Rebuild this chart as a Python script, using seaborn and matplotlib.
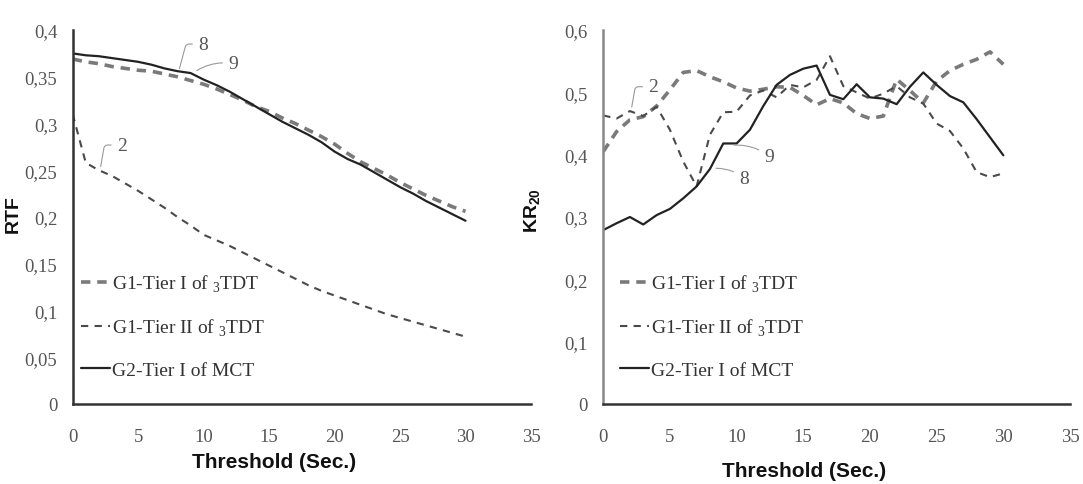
import numpy as np
import pandas as pd
import matplotlib
matplotlib.use('Agg')
import matplotlib.pyplot as plt
from matplotlib.ticker import FuncFormatter
import seaborn as sns

# limiares (segundos)
threshold = list(range(0, 31))

# RTF - painel esquerdo
rtf_g1_tier1 = [0.369, 0.366, 0.364, 0.361, 0.359, 0.357, 0.356, 0.353, 0.350, 0.346,
                0.342, 0.337, 0.331, 0.325, 0.318, 0.313, 0.306, 0.300, 0.293, 0.286,
                0.278, 0.268, 0.259, 0.252, 0.245, 0.237, 0.230, 0.223, 0.217, 0.211, 0.206]
rtf_g1_tier2 = [0.310, 0.258, 0.250, 0.244, 0.236, 0.228, 0.219, 0.210, 0.200, 0.191,
                0.181, 0.175, 0.169, 0.162, 0.155, 0.148, 0.141, 0.134, 0.127, 0.121,
                0.116, 0.111, 0.106, 0.101, 0.096, 0.092, 0.088, 0.084, 0.080, 0.076, 0.072]
rtf_g2_tier1 = [0.375, 0.373, 0.372, 0.370, 0.368, 0.366, 0.363, 0.359, 0.356, 0.354,
                0.347, 0.341, 0.334, 0.326, 0.318, 0.310, 0.302, 0.295, 0.288, 0.280,
                0.270, 0.262, 0.256, 0.248, 0.240, 0.232, 0.225, 0.217, 0.210, 0.203, 0.196]

# KR-20 - painel direito
kr_g1_tier1 = [0.405, 0.437, 0.456, 0.461, 0.478, 0.504, 0.532, 0.535, 0.525, 0.517,
               0.507, 0.502, 0.505, 0.509, 0.508, 0.495, 0.480, 0.490, 0.483, 0.466,
               0.458, 0.462, 0.521, 0.503, 0.483, 0.518, 0.535, 0.545, 0.553, 0.565, 0.545]
kr_g1_tier2 = [0.463, 0.458, 0.470, 0.462, 0.477, 0.440, 0.389, 0.349, 0.432, 0.468,
               0.469, 0.495, 0.503, 0.492, 0.512, 0.508, 0.520, 0.558, 0.510, 0.500,
               0.490, 0.498, 0.510, 0.492, 0.482, 0.450, 0.438, 0.410, 0.372, 0.364, 0.370]
kr_g2_tier1 = [0.279, 0.290, 0.300, 0.288, 0.303, 0.313, 0.330, 0.349, 0.377, 0.418,
               0.418, 0.440, 0.478, 0.512, 0.528, 0.538, 0.543, 0.496, 0.489, 0.513,
               0.492, 0.490, 0.481, 0.509, 0.532, 0.512, 0.494, 0.484, 0.457, 0.428, 0.399]

labels = [r'G1-Tier I of $_{\mathrm{3}}$TDT',
          r'G1-Tier II of $_{\mathrm{3}}$TDT',
          r'G2-Tier I of MCT']

sns.set_style('white')
plt.rcParams['font.family'] = ['Liberation Serif', 'DejaVu Serif']
plt.rcParams['mathtext.fontset'] = 'custom'
plt.rcParams['mathtext.rm'] = 'Liberation Serif'
plt.rcParams['mathtext.bf'] = 'Liberation Sans:bold'

estilos = [
    dict(color='#7a7a7a', linewidth=2.6, linestyle=(0, (2.6, 1.9))),
    dict(color='#4a4a4a', linewidth=1.5, linestyle=(0, (3.5, 3.0))),
    dict(color='#222222', linewidth=1.6, linestyle='-'),
]

fig = plt.figure(figsize=(10.83, 4.85), dpi=100)
ax1 = fig.add_axes([0.0671, 0.165, 0.4232, 0.771])
ax2 = fig.add_axes([0.557, 0.165, 0.431, 0.771])

for ax, series, ymax, ystep in [(ax1, [rtf_g1_tier1, rtf_g1_tier2, rtf_g2_tier1], 0.4, 0.05),
                                (ax2, [kr_g1_tier1, kr_g1_tier2, kr_g2_tier1], 0.6, 0.1)]:
    for vals, lab, st in zip(series, labels, estilos):
        sns.lineplot(x=threshold, y=vals, ax=ax, label=lab, **st)
    ax.set_xlim(0, 35)
    ax.set_ylim(0, ymax)
    ax.set_xticks(range(0, 36, 5))
    ax.set_yticks(np.round(np.arange(0, ymax + 1e-9, ystep), 2))
    ax.yaxis.set_major_formatter(FuncFormatter(lambda v, p: f'{v:g}'.replace('.', ',')))
    ax.tick_params(axis='x', length=0, pad=17, labelsize=13.5, labelcolor='#555555')
    ax.tick_params(axis='y', length=0, pad=11, labelsize=13.5, labelcolor='#555555')
    for s in ['top', 'right']:
        ax.spines[s].set_visible(False)
    ax.spines['bottom'].set_color('#333333')
    ax.spines['bottom'].set_linewidth(1.8)
    ax.spines['left'].set_linewidth(1.8)
    ax.set_xlabel('Threshold (Sec.)', fontsize=15, fontweight='bold', color='#111111',
                  family=['Liberation Sans', 'DejaVu Sans'])
    ax.legend(loc='center left', frameon=False, fontsize=14, handlelength=1.5,
              handletextpad=0.1, labelspacing=1.2, borderpad=0, borderaxespad=0,
              labelcolor='#333333')

ax1.spines['left'].set_color('#333333')
ax2.spines['left'].set_color('#888888')
ax1.legend_.set_bbox_to_anchor((0.018, 0.209))
ax2.legend_.set_bbox_to_anchor((0.036, 0.209))

ax1.xaxis.set_label_coords(0.44, -0.128)
ax2.xaxis.set_label_coords(0.43, -0.152)

ax1.set_ylabel('RTF', fontsize=14, fontweight='bold', color='#111111',
               family=['Liberation Sans', 'DejaVu Sans'])
ax1.yaxis.set_label_coords(-0.112, 0.51)
ax2.set_ylabel(r'KR$_{\mathbf{20}}$', fontsize=14, fontweight='bold', color='#111111',
               family=['Liberation Sans', 'DejaVu Sans'])
ax2.yaxis.set_label_coords(-0.13, 0.52)

# rótulos numéricos com linhas de chamada
anot = dict(fontsize=14, color='#555555', va='center', ha='left')
seta = dict(arrowstyle='-', color='#999999', lw=0.8)
ax1.annotate('8', xy=(8.1, 0.356), xytext=(9.6, 0.385),
             arrowprops=dict(connectionstyle='angle,angleA=0,angleB=75,rad=3', **seta), **anot)
ax1.annotate('9', xy=(9.3, 0.355), xytext=(11.9, 0.364),
             arrowprops=dict(connectionstyle='arc3,rad=0.2', **seta), **anot)
ax1.annotate('2', xy=(2.1, 0.251), xytext=(3.4, 0.277),
             arrowprops=dict(connectionstyle='angle,angleA=0,angleB=80,rad=3', **seta), **anot)
ax2.annotate('2', xy=(2.1, 0.472), xytext=(3.4, 0.509),
             arrowprops=dict(connectionstyle='angle,angleA=0,angleB=80,rad=3', **seta), **anot)
ax2.annotate('9', xy=(9.6, 0.415), xytext=(12.1, 0.397),
             arrowprops=dict(connectionstyle='arc3,rad=0.2', **seta), **anot)
ax2.annotate('8', xy=(8.25, 0.378), xytext=(10.2, 0.362),
             arrowprops=dict(connectionstyle='arc3,rad=0.2', **seta), **anot)

plt.savefig('out.png', dpi=100)
plt.close()
